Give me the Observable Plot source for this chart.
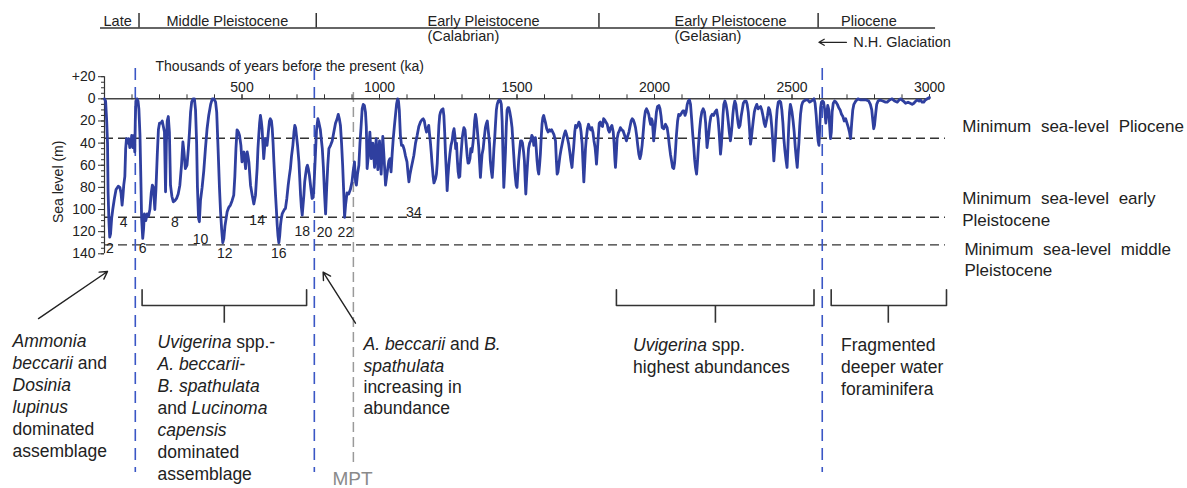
<!DOCTYPE html>
<html><head><meta charset="utf-8">
<script src="https://cdn.jsdelivr.net/npm/d3@7"></script>
<script src="https://cdn.jsdelivr.net/npm/@observablehq/plot@0.6"></script>
<style>
html,body{margin:0;padding:0;background:#fff;}
#chart{width:1187px;height:488px;overflow:hidden;}
</style></head><body><div id="chart"></div>
<script>
// ---- Sea-level curve: [age (ka), sea level below present (m)] ----
const seaLevelCurve = [
[0,0],[4,2],[8,20],[11,40],[13,84],[16,110],[19,125],[22,122],[26,108],[30,100],[36,90],[42,82],[50,79],[56,80],[60,85],[64,96],[67,88],[70,78],[74,70],[77,45],[80,36],[84,40],[88,36],[92,44],[96,40],[99,33],[103,44],[107,33],[110,48],[112,20],[114,2],[118,0],[122,2],[125,9],[129,33],[132,70],[135,108],[139,126],[142,118],[145,104],[150,110],[155,104],[160,106],[165,100],[170,85],[174,78],[178,80],[183,100],[187,82],[192,50],[196,28],[200,22],[205,22],[210,20],[214,25],[218,30],[222,84],[225,40],[228,20],[232,16],[236,30],[240,78],[245,88],[250,93],[256,92],[262,90],[268,86],[274,78],[280,60],[285,39],[289,48],[294,63],[300,60],[305,45],[309,30],[313,12],[317,3],[322,0],[327,0],[331,10],[335,40],[338,80],[342,108],[345,111],[349,92],[355,80],[361,65],[367,45],[373,27],[379,15],[386,5],[392,0],[398,0],[404,3],[408,12],[413,45],[418,80],[422,102],[426,118],[430,130],[434,126],[438,115],[446,102],[452,98],[458,96],[464,92],[470,87],[474,70],[478,45],[482,28],[487,30],[491,33],[496,42],[500,57],[504,50],[507,48],[510,55],[513,63],[516,52],[519,48],[522,52],[525,57],[531,78],[537,87],[543,95],[549,87],[552,75],[555,63],[558,45],[561,33],[564,22],[567,15],[570,20],[573,27],[576,40],[579,54],[582,45],[585,36],[588,40],[591,42],[594,35],[597,27],[600,20],[603,18],[607,20],[610,27],[613,40],[616,57],[619,72],[622,87],[625,100],[628,114],[631,124],[634,130],[637,124],[640,114],[643,108],[646,104],[650,102],[654,100],[658,99],[663,90],[668,78],[672,70],[676,63],[680,52],[685,42],[689,30],[692,24],[695,26],[698,33],[702,42],[707,57],[710,72],[713,87],[716,98],[719,105],[722,96],[725,87],[728,75],[731,69],[735,62],[738,60],[741,63],[745,69],[750,80],[755,90],
[759,89],[763,72],[767,50],[771,28],[776,18],[780,22],[785,28],[789,38],[792,45],[796,62],[800,85],[804,104],[808,80],[812,60],[816,45],[822,42],[828,38],[834,30],[840,22],[846,18],[850,14],[854,18],[858,24],[862,40],[866,60],[870,85],[873,107],[877,95],[882,85],[888,86],[894,82],[900,75],[904,66],[909,57],[913,75],[916,78],[920,68],[925,60],[929,40],[933,25],[937,9],[941,5],[945,6],[949,12],[952,25],[955,63],[960,50],[965,30],[970,54],[976,40],[982,62],[988,36],[994,64],[1000,38],[1006,68],[1012,34],[1017,55],[1022,78],[1026,70],[1030,63],[1034,56],[1038,54],[1042,66],[1046,50],[1050,36],[1054,25],[1058,15],[1062,5],[1066,0],[1069,2],[1072,10],[1076,33],[1080,42],[1085,42],[1090,46],[1094,51],[1100,57],[1104,68],[1107,75],[1111,68],[1115,63],[1120,57],[1125,51],[1131,40],[1137,33],[1143,25],[1149,21],[1154,19],[1159,18],[1163,20],[1167,26],[1171,30],[1175,27],[1179,24],[1182,32],[1185,39],[1188,48],[1191,58],[1195,70],[1198,76],[1201,74],[1204,72],[1207,68],[1210,58],[1213,40],[1216,24],[1219,15],[1222,12],[1226,10],[1231,9],[1234,15],[1237,30],[1240,50],[1244,70],[1246,83],[1249,70],[1252,60],[1256,50],[1260,42],[1264,38],[1268,30],[1271,27],[1274,33],[1277,45],[1280,40],[1283,55],[1286,66],[1289,71],[1292,70],[1295,55],[1298,45],[1301,35],[1304,30],[1307,26],[1311,28],[1315,40],[1319,52],[1322,58],[1325,58],[1329,54],[1332,45],[1336,48],[1340,40],[1343,32],[1346,20],[1349,14],[1352,18],[1355,26],[1358,35],[1361,44],[1364,58],[1367,71],[1370,60],[1373,50],[1377,45],[1381,35],[1385,26],[1389,22],[1392,20],[1396,30],[1400,40],[1403,56],[1407,66],[1410,71],[1413,60],[1416,45],[1419,35],[1422,22],[1425,10],[1428,5],[1432,2],[1436,1],[1440,2],[1443,5],[1446,20],[1449,50],[1452,80],[1455,65],[1458,48],[1461,25],[1464,10],[1467,8],[1470,8],[1474,12],[1478,18],[1482,26],[1485,38],[1488,50],[1491,62],[1494,71],[1497,78],[1500,80],
[1503,68],[1506,56],[1510,45],[1513,38],[1517,38],[1520,40],[1524,48],[1527,56],[1530,75],[1532,86],[1535,72],[1538,60],[1542,45],[1546,40],[1550,38],[1554,33],[1558,35],[1561,42],[1564,38],[1567,35],[1570,45],[1573,56],[1576,64],[1579,68],[1582,60],[1585,50],[1588,35],[1591,23],[1594,17],[1597,15],[1600,18],[1604,22],[1608,27],[1613,30],[1618,28],[1622,29],[1626,28],[1630,30],[1634,32],[1637,35],[1640,38],[1643,55],[1646,68],[1649,66],[1652,60],[1656,52],[1660,46],[1664,41],[1668,36],[1672,32],[1676,29],[1680,32],[1684,36],[1688,41],[1692,48],[1696,56],[1700,62],[1703,52],[1706,44],[1710,30],[1713,24],[1717,26],[1721,24],[1725,21],[1729,23],[1733,30],[1737,41],[1740,58],[1743,75],[1746,60],[1749,45],[1752,36],[1756,27],[1760,23],[1764,26],[1768,28],[1772,26],[1776,30],[1780,38],[1784,44],[1787,52],[1789,59],[1792,48],[1795,36],[1799,22],[1803,21],[1807,24],[1811,25],[1815,18],[1819,19],[1823,21],[1828,23],[1832,28],[1836,30],[1840,26],[1845,24],[1850,30],[1853,40],[1856,55],[1858,62],[1861,50],[1864,36],[1868,31],[1872,29],[1876,26],[1881,28],[1886,29],[1890,32],[1894,35],[1898,38],[1902,34],[1907,30],[1911,25],[1915,20],[1919,18],[1923,19],[1927,22],[1931,26],[1935,33],[1939,42],[1943,50],[1947,54],[1951,50],[1955,42],[1959,30],[1963,18],[1967,11],[1971,9],[1975,11],[1979,14],[1983,20],[1986,23],[1989,18],[1992,20],[1995,30],[1997,38],[2000,30],[2003,23],[2007,12],[2011,7],[2016,6],[2020,9],[2024,16],[2028,26],[2034,27],[2040,23],[2046,26],[2050,33],[2054,42],[2058,50],[2062,56],[2066,62],[2070,63],[2073,58],[2076,48],[2080,32],[2084,20],[2088,14],[2093,15],[2098,13],[2103,11],[2107,11],[2111,15],[2115,12],[2119,5],[2123,2],[2127,1],[2131,5],[2135,18],[2139,32],[2143,44],[2146,55],[2149,62],[2153,68],[2156,58],[2160,42],[2164,28],[2168,18],[2172,12],[2177,9],[2182,12],[2186,22],[2189,35],[2191,44],[2194,38],[2197,32],[2201,22],[2205,16],[2210,14],[2215,15],[2220,12],[2226,10],[2231,18],[2235,30],[2238,42],[2240,50],[2243,42],[2246,30],[2249,15],[2252,5],[2256,2],[2260,5],[2264,11],[2268,20],[2272,30],[2276,38],[2279,32],[2282,24],[2285,14],[2288,7],[2292,2],[2296,5],[2300,14],[2304,22],[2307,26],[2311,24],[2315,16],[2319,10],[2323,4],[2328,2],[2333,2],[2337,5],[2341,12],[2345,25],[2349,41],[2352,36],[2355,29],[2359,20],[2363,12],[2367,8],[2372,5],[2377,9],[2381,8],[2386,7],[2390,10],[2395,16],[2399,22],[2403,25],[2407,20],[2411,15],[2415,8],[2419,10],[2423,16],[2427,27],[2431,42],[2434,56],[2437,45],[2440,35],[2443,20],[2446,10],[2450,3],[2455,2],[2459,3],[2463,10],[2467,22],[2470,35],[2474,46],[2478,55],[2482,62],[2485,45],[2488,26],[2491,12],[2494,5],[2497,8],[2500,12],[2504,20],[2508,30],[2512,44],[2516,55],[2519,62],[2522,50],[2525,40],[2528,25],[2531,14],[2535,6],[2539,3],[2543,2],[2550,1],[2557,1],[2564,3],[2570,2],[2576,1],[2580,0],[2584,4],[2588,15],[2591,26],[2595,38],[2598,42],[2601,25],[2604,8],[2607,3],[2611,2],[2615,3],[2619,10],[2623,22],[2626,15],[2630,6],[2634,10],[2637,25],[2640,36],[2643,30],[2646,12],[2650,4],[2655,2],[2660,3],[2665,5],[2670,8],[2675,10],[2680,14],[2685,16],[2690,20],[2695,18],[2700,22],[2705,26],[2709,30],[2713,36],[2717,22],[2721,10],[2725,5],[2732,2],[2740,0],[2750,1],[2760,1],[2770,1],[2779,2],[2785,5],[2790,10],[2794,20],[2797,27],[2800,24],[2804,14],[2808,5],[2813,2],[2820,1],[2830,2],[2840,3],[2846,3],[2855,1],[2864,0],[2873,2],[2883,3],[2890,1],[2895,0],[2905,2],[2913,4],[2922,3],[2930,4],[2937,5],[2943,4],[2950,2],[2955,1],[2962,2],[2967,1],[2973,3],[2979,3],[2985,1],[2992,0],[2997,-1],[3000,-1]
];

// ---- Axes ----
const yMajorTicks = [-20, 0, 20, 40, 60, 80, 100, 120, 140];
const yMinorTicks = d3.range(-20, 141, 5);
const xLabelTicks = [500, 1000, 1500, 2000, 2500, 3000];
const xMinorTicks = d3.range(100, 3001, 100);

// ---- Minimum sea-level lines (m) and labels ----
const minLevels = [35.6, 107, 132];
const minLevelLabels = [
  {x: 3119, y: 24.1, text: "Minimum sea-level Pliocene"},
  {x: 3119, y: 98.6, text: "Minimum sea-level early\nPleistocene"},
  {x: 3127, y: 144.3, text: "Minimum sea-level middle\nPleistocene"}
];

// ---- Marine isotope stage numbers ----
const misText = ["2","4","6","8","10","12","14","16","18","20","22","34"];
const misAge  = [20, 70, 139, 256, 349, 437, 555, 634, 719, 800, 876, 1125];
const misDepth = [135.5, 111.5, 135.5, 112, 127, 140, 110, 140, 119.6, 121, 121, 102.4];

// ---- Boundaries (ka) ----
const boundaryAges = [112, 763, 2610];
const mptAge = 905;

// ---- Period bar ----
const periodDividers = [125.5, 770, 1798, 2595];
const periodLabels = [
  {x: -3.6, y: -70.1, text: "Late"},
  {x: 225.5, y: -70.1, text: "Middle Pleistocene"},
  {x: 1174.5, y: -70.1, text: "Early Pleistocene"},
  {x: 1174.5, y: -56.3, text: "(Calabrian)"},
  {x: 2072.7, y: -70.1, text: "Early Pleistocene"},
  {x: 2072.7, y: -56.3, text: "(Gelasian)"},
  {x: 2678.5, y: -70.1, text: "Pliocene"},
  {x: 2722.9, y: -51.1, text: "N.H. Glaciation"}
];

// ---- Foraminifera assemblages ----
const brackets = [
  {left: 136.7, right: 734.9, mid: 435.6},
  {left: 1861.5, right: 2580, mid: 2221.5},
  {left: 2642.5, right: 3061.8, mid: 2850.2}
];
const bracketTop = 172.5, bracketBar = 186.7, bracketStem = 202.7;
const assemblages = [
  {x: -334.5, y: 210.3, lh: 1.25, text: "*Ammonia*\n*beccarii* and\n*Dosinia*\n*lupinus*\ndominated\nassemblage"},
  {x: 192.7, y: 211, lh: 1.257, text: "*Uvigerina* spp.-\n*A. beccarii-*\n*B. spathulata*\nand *Lucinoma*\n*capensis*\ndominated\nassemblage"},
  {x: 941.8, y: 213.5, lh: 1.22, text: "*A. beccarii* and *B.*\n*spathulata*\nincreasing in\nabundance"},
  {x: 1922, y: 214, lh: 1.24, text: "*Uvigerina* spp.\nhighest abundances"},
  {x: 2678.5, y: 214, lh: 1.26, text: "Fragmented\ndeeper water\nforaminifera"}
];
const pointers = [
  {x1: -240, y1: 198.5, x2: 10.9, y2: 156},
  {x1: 912.7, y1: 202.7, x2: 795, y2: 156.6}
];

const bracketPts = brackets.flatMap((b, i) => [
  {i, x: b.left, y: bracketTop}, {i, x: b.left, y: bracketBar},
  {i, x: b.right, y: bracketBar}, {i, x: b.right, y: bracketTop}
]);
const misData = misText.map((t, i) => ({t, x: misAge[i], y: misDepth[i]}));

const chart = Plot.plot({
  width: 1187, height: 488,
  marginLeft: 104, marginRight: 258, marginTop: 76.2, marginBottom: 234.7,
  style: {fontFamily: "'Liberation Sans', Arial, Helvetica, sans-serif", fontSize: "14px", color: "#222", background: "#fff", overflow: "visible"},
  x: {domain: [0, 3000]},
  y: {domain: [140, -20]},
  marks: [
    Plot.ruleY(minLevels, {y: d => d, x1: 0, x2: 3058, stroke: "#333", strokeWidth: 1.3, strokeDasharray: "9,5"}),
    Plot.ruleX(boundaryAges, {x: d => d, y1: -27.4, y2: 337.6, stroke: "#3a56c5", strokeWidth: 1.6, strokeDasharray: "12,7"}),
    Plot.ruleX([mptAge], {x: d => d, y1: -5.7, y2: 333, stroke: "#9a9a9a", strokeWidth: 1.5, strokeDasharray: "10,5"}),
    Plot.ruleY([0], {x1: 0, x2: 3000, stroke: "#444", strokeWidth: 1.5}),
    Plot.ruleX([0], {y1: -20, y2: 140, stroke: "#333", strokeWidth: 1.2}),
    Plot.axisY({anchor: "left", ticks: yMinorTicks, tickSize: 3, fill: "none", label: null, stroke: "#333"}),
    Plot.axisY({anchor: "left", ticks: yMajorTicks, tickSize: 6, tickPadding: 3, label: null, fontSize: 14, stroke: "#333",
      tickFormat: d => d < 0 ? "+" + (-d) : String(d)}),
    Plot.axisX({anchor: "top", ticks: xMinorTicks, tickSize: 5, fill: "none", label: null, dy: 22.1, stroke: "#333"}),
    Plot.axisX({anchor: "top", ticks: xLabelTicks, tickSize: 5, tickPadding: 2, label: null, dy: 22.1, fontSize: 14, stroke: "#333",
      tickFormat: d => String(d)}),
    Plot.line(seaLevelCurve, {x: d => d[0], y: d => d[1], stroke: "#2f3f9f", strokeWidth: 2.8, strokeLinejoin: "round"}),
    Plot.text(misData, {x: "x", y: "y", text: "t", fontSize: 14, fill: "#222"}),
    Plot.text(["Thousands of years before the present (ka)"], {x: 185.5, y: -29.4, text: d => d, textAnchor: "start", fontSize: 14}),
    Plot.text(["Sea level (m)"], {x: -167, y: 75, text: d => d, rotate: -90, fontSize: 14}),
    Plot.text(minLevelLabels, {x: "x", y: "y", text: "text", textAnchor: "start", fontSize: 17, lineHeight: 1.27}),
    Plot.ruleY([-64.1], {x1: -14.5, x2: 3022, stroke: "#333", strokeWidth: 1.5}),
    Plot.ruleX(periodDividers, {x: d => d, y1: -77.1, y2: -64.1, stroke: "#333", strokeWidth: 1.5}),
    Plot.text(periodLabels, {x: "x", y: "y", text: "text", textAnchor: "start", fontSize: 14.5}),
    Plot.arrow([{x1: 2698, x2: 2598, y: -51.1}], {x1: "x1", x2: "x2", y1: "y", y2: "y", stroke: "#222", strokeWidth: 1.3, headLength: 7}),
    Plot.line(bracketPts, {x: "x", y: "y", z: "i", stroke: "#333", strokeWidth: 1.6}),
    Plot.ruleX(brackets, {x: "mid", y1: bracketBar, y2: bracketStem, stroke: "#333", strokeWidth: 1.6}),
    Plot.arrow(pointers, {x1: "x1", y1: "y1", x2: "x2", y2: "y2", stroke: "#222", strokeWidth: 1.4, headLength: 9}),
    ...assemblages.map(a => Plot.text([a], {x: "x", y: "y", text: "text", textAnchor: "start", lineAnchor: "top", fontSize: 17.5, lineHeight: a.lh, fill: "#222"})),
    Plot.text(["MPT"], {x: 901.8, y: 343.5, text: d => d, fontSize: 19, fill: "#8a8a8a"})
  ]
});

// italic segments marked with *...*, and word spacing for right labels
function applyItalics(el) {
  const s = el.textContent;
  if (!s.includes("*")) return;
  el.textContent = "";
  s.split("*").forEach((part, i) => {
    if (!part) return;
    const t = document.createElementNS("http://www.w3.org/2000/svg", "tspan");
    if (i % 2 === 1) t.setAttribute("font-style", "italic");
    t.textContent = part;
    el.appendChild(t);
  });
}
chart.querySelectorAll("text").forEach(text => {
  const spans = text.querySelectorAll("tspan");
  if (spans.length) spans.forEach(applyItalics); else applyItalics(text);
  if (text.textContent.startsWith("Minimum")) text.style.wordSpacing = "5px";
});
document.getElementById("chart").appendChild(chart);
</script></body></html>
